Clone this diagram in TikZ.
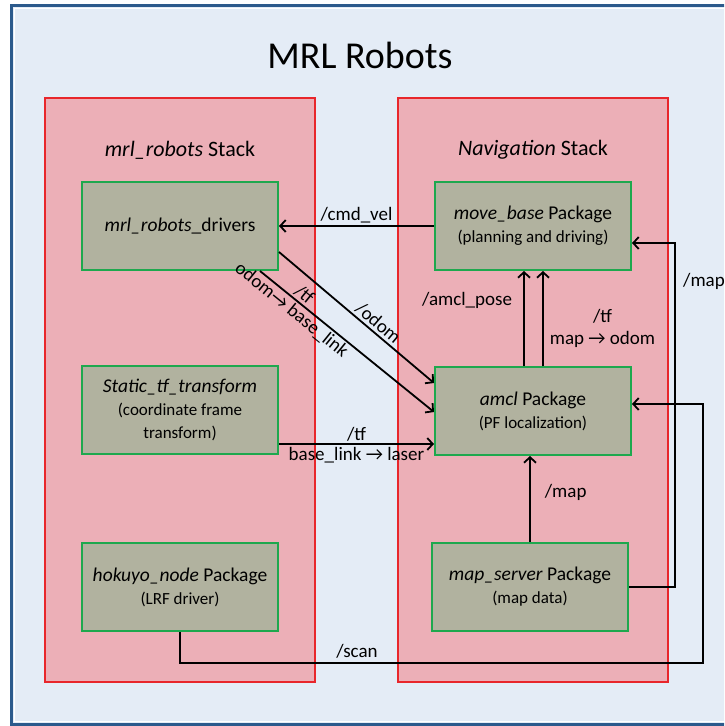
\documentclass[tikz,border=0pt]{standalone}
\usepackage{fontspec}
\setmainfont{Carlito}
\usetikzlibrary{arrows.meta}

\definecolor{framebg}{HTML}{E4ECF6}
\definecolor{frameline}{HTML}{2C5A8C}
\definecolor{stackfill}{HTML}{ECAFB7}
\definecolor{stackline}{HTML}{E8262B}
\definecolor{pkgfill}{HTML}{B1B29F}
\definecolor{pkgline}{HTML}{1EA84E}

\newcommand*{\pkgw}{196pt}
\newcommand*{\pkgh}{88pt}
\newcommand*{\subtxt}{\fontsize{17}{21}\selectfont}

\begin{document}
\begin{tikzpicture}
[
	x=1pt,
	y=-1pt,
	stackbox/.style={draw=stackline,fill=stackfill,line width=1.6pt,minimum width=270pt,minimum height=584pt,inner sep=0pt},
	pkgbox/.style={draw=pkgline,fill=pkgfill,line width=2pt,minimum width=\pkgw,minimum height=\pkgh,align=center,inner sep=0pt,font=\fontsize{19.5}{23}\selectfont},
	flow/.style={line width=1.8pt,-{Straight Barb[length=5.5pt,width=12pt]}},
	lbl/.style={inner sep=2pt,font=\fontsize{19}{22}\selectfont}
]

	% frame
	\path[use as bounding box,clip] (0,0) rectangle (724,726);
	\draw[fill=framebg,draw=frameline,line width=3pt] (11,5.5) rectangle (740,724);
	\draw[white,line width=1pt] (14,8.5) rectangle (737,721);
	\node[font=\fontsize{38}{44}\selectfont] (title) at (360,55) {MRL Robots};

	% stacks
	\node[stackbox] (leftstack) at (180,390) {};
	\node[stackbox] (rightstack) at (533,390) {};
	\node[font=\fontsize{22}{26}\selectfont] (leftname) at (180,150) {\textit{mrl\_robots} Stack};
	\node[font=\fontsize{22}{26}\selectfont] (rightname) at (533,150) {\textit{Navigation} Stack};

	% packages
	\node[pkgbox] (drivers) at (180,226) {\textit{mrl\_robots}\_drivers};
	\node[pkgbox] (statictf) at (180,410) {\textit{Static\_tf\_transform}\\{\subtxt (coordinate frame}\\{\subtxt transform)}};
	\node[pkgbox] (hokuyo) at (180,587) {\textit{hokuyo\_node} Package\\{\subtxt (LRF driver)}};
	\node[pkgbox] (movebase) at (533,226) {\textit{move\_base} Package\\{\subtxt (planning and driving)}};
	\node[pkgbox] (amcl) at (533,411) {\textit{amcl} Package\\{\subtxt (PF localization)}};
	\node[pkgbox] (mapserver) at (530,587) {\textit{map\_server} Package\\{\subtxt (map data)}};

	% topics
	\coordinate (mapbus) at (675,0);
	\coordinate (scanbus) at (703,663);
	\coordinate (movein) at ([yshift=-17pt]movebase.east);
	\coordinate (amclin) at ([yshift=7pt]amcl.east);
	\draw[flow] (movebase.west) -- (drivers.east)
		node[lbl,midway,above] {/cmd\_vel};
	\draw[flow] ([yshift=-26pt]drivers.east) -- ([yshift=28pt]amcl.west)
		node[lbl,pos=0.6,above,sloped] {/odom};
	\draw[flow] ([xshift=80pt]drivers.south) -- ([yshift=-1pt]amcl.west)
		node[lbl,pos=0.22,above,sloped] {/tf}
		node[lbl,pos=0.22,below,sloped] {odom→ base\_link};
	\draw[flow] ([yshift=-34pt]statictf.east) -- ([yshift=-33pt]amcl.west)
		node[lbl,midway,above] {/tf}
		node[lbl,midway,below] {base\_link → laser};
	\draw[flow] ([xshift=-9pt]amcl.north) -- ([xshift=-9pt]movebase.south)
		node[lbl,pos=0.69,left,xshift=-9pt] {/amcl\_pose};
	\draw[flow] ([xshift=10pt]amcl.north) -- ([xshift=10pt]movebase.south)
		node[lbl,pos=0.4,right,align=center,xshift=4pt] {/tf\\map → odom};
	\draw[flow] (mapserver.north) -- (mapserver.north |- amcl.south)
		node[lbl,pos=0.58,right,xshift=12pt] {/map};
	\draw[flow] (mapserver.east) -| (mapbus |- movein) -- (movein);
	\node[lbl] (maplbl) at (704,281) {/map};
	\draw[flow] (hokuyo.south) |- (scanbus) |- (amclin);
	\node[lbl,above] (scanlbl) at (357,660) {/scan};

\end{tikzpicture}
\end{document}
